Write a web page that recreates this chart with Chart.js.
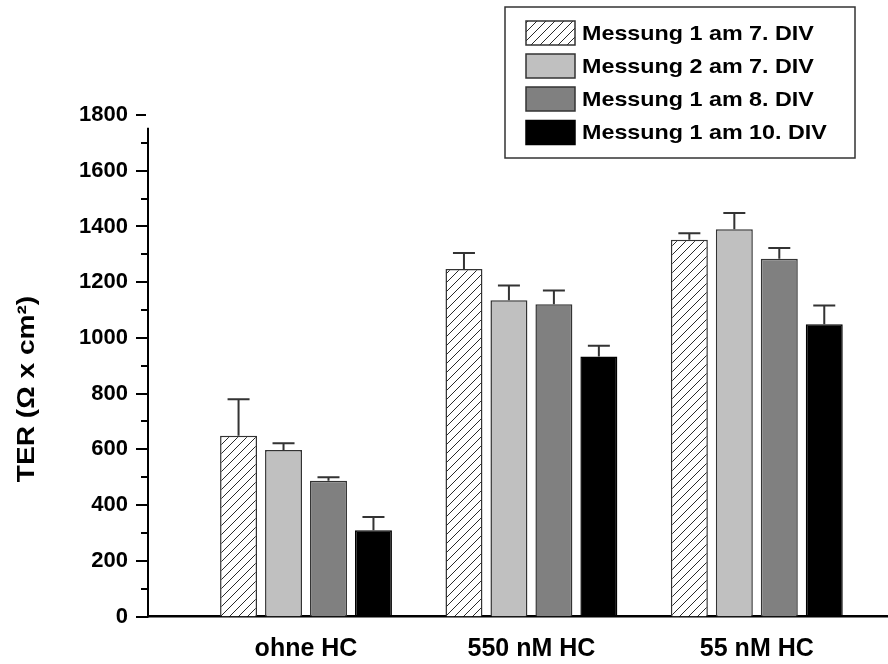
<!DOCTYPE html>
<html>
<head>
<meta charset="utf-8">
<script src="https://cdn.jsdelivr.net/npm/chart.js@4.4.1/dist/chart.umd.min.js"></script>
<style>
  html, body { margin: 0; padding: 0; background: #ffffff; }
  #wrap { width: 888px; height: 664px; position: relative; }
</style>
</head>
<body>
<div id="wrap"><canvas id="c"></canvas></div>
<script>
// ---- Data ----
const categories = ['ohne HC', '550 nM HC', '55 nM HC'];
const categoryPositions = [1, 2, 3];
const seriesLabels = ['Messung 1 am 7. DIV', 'Messung 2 am 7. DIV', 'Messung 1 am 8. DIV', 'Messung 1 am 10. DIV'];
const mess1Div7 = [649, 1247, 1352];
const mess2Div7 = [598, 1135, 1390];
const mess1Div8 = [487, 1121, 1284];
const mess1Div10 = [310, 933, 1049];
const err1Div7 = [131, 58, 24];
const err2Div7 = [24, 53, 58];
const err1Div8 = [13, 49, 39];
const err1Div10 = [47, 39, 67];
const yTickValues = [0, 200, 400, 600, 800, 1000, 1200, 1400, 1600, 1800];

const seriesValues = [mess1Div7, mess2Div7, mess1Div8, mess1Div10];
const seriesErrors = [err1Div7, err2Div7, err1Div8, err1Div10];

// ---- Hatch pattern ----
function makeHatch() {
  const s = 9;
  const pc = document.createElement('canvas');
  pc.width = s; pc.height = s;
  const g = pc.getContext('2d');
  g.fillStyle = '#ffffff';
  g.fillRect(0, 0, s, s);
  g.strokeStyle = '#2a2a2a';
  g.lineWidth = 1;
  g.beginPath();
  g.moveTo(0, s); g.lineTo(s, 0);
  g.moveTo(-1, 1); g.lineTo(1, -1);
  g.moveTo(s - 1, s + 1); g.lineTo(s + 1, s - 1);
  g.stroke();
  return document.getElementById('c').getContext('2d').createPattern(pc, 'repeat');
}
const hatch = makeHatch();
const fills = [hatch, '#c0c0c0', '#808080', '#000000'];
const borders = ['#333333', '#333333', '#333333', '#000000'];

const FONT = '"Liberation Sans", Arial, sans-serif';

// ---- Plugins ----
const axisPlugin = {
  id: 'axisPlugin',
  afterDraw(chart) {
    const ctx = chart.ctx;
    const ys = chart.scales.y;
    const x0 = chart.chartArea.left;
    ctx.save();
    ctx.strokeStyle = '#000';
    ctx.lineWidth = 2;
    ctx.beginPath();
    ctx.moveTo(x0, ys.getPixelForValue(0) + 1);
    ctx.lineTo(x0, ys.getPixelForValue(1754));
    ctx.stroke();
    for (let v = 0; v <= 1800; v += 100) {
      const y = Math.round(ys.getPixelForValue(v));
      const major = v % 200 === 0;
      ctx.beginPath();
      if (v === 1800) {
        ctx.moveTo(x0 - 12, y); ctx.lineTo(x0 - 2, y);
      } else {
        ctx.moveTo(x0 - (major ? 12 : 7), y); ctx.lineTo(x0, y);
      }
      ctx.stroke();
    }
    ctx.translate(27, 389);
    ctx.rotate(-Math.PI / 2);
    ctx.scale(1.17, 1);
    ctx.fillStyle = '#000';
    ctx.font = 'bold 24px ' + FONT;
    ctx.textAlign = 'center';
    ctx.textBaseline = 'middle';
    ctx.fillText('TER (\u03A9 x cm\u00B2)', 0, 0);
    ctx.restore();
  }
};

const errorBarPlugin = {
  id: 'errorBarPlugin',
  afterDatasetsDraw(chart) {
    const ctx = chart.ctx;
    const ys = chart.scales.y;
    ctx.save();
    ctx.strokeStyle = '#333';
    ctx.lineWidth = 2;
    chart.data.datasets.forEach((ds, i) => {
      const meta = chart.getDatasetMeta(i);
      meta.data.forEach((bar, j) => {
        const top = ys.getPixelForValue(seriesValues[i][j] + seriesErrors[i][j]);
        ctx.beginPath();
        ctx.moveTo(bar.x, bar.y);
        ctx.lineTo(bar.x, top);
        ctx.moveTo(bar.x - 11, top);
        ctx.lineTo(bar.x + 11, top);
        ctx.stroke();
      });
    });
    ctx.restore();
  }
};

const legendPlugin = {
  id: 'legendPlugin',
  afterDraw(chart) {
    const ctx = chart.ctx;
    ctx.save();
    ctx.fillStyle = '#fff';
    ctx.fillRect(505, 7, 350, 151);
    ctx.strokeStyle = '#333';
    ctx.lineWidth = 1.5;
    ctx.strokeRect(505, 7, 350, 151);
    const rows = [33, 66, 99, 132.5];
    chart.data.datasets.forEach((ds, i) => {
      const cy = rows[i];
      ctx.fillStyle = ds.backgroundColor;
      ctx.fillRect(526, cy - 12, 49, 24);
      ctx.strokeStyle = ds.borderColor;
      ctx.lineWidth = 1.5;
      ctx.strokeRect(526, cy - 12, 49, 24);
      ctx.save();
      ctx.translate(582, cy + 1);
      ctx.scale(1.11, 1);
      ctx.fillStyle = '#000';
      ctx.font = 'bold 21px ' + FONT;
      ctx.textAlign = 'left';
      ctx.textBaseline = 'middle';
      ctx.fillText(ds.label, 0, 0);
      ctx.restore();
    });
    ctx.restore();
  }
};

// ---- Chart ----
const datasets = seriesLabels.map((label, i) => ({
  label: label,
  data: seriesValues[i].map((v, j) => ({ x: categoryPositions[j], y: v })),
  backgroundColor: fills[i],
  borderColor: borders[i],
  borderWidth: 1.5,
  borderSkipped: 'start',
  categoryPercentage: 0.798,
  barPercentage: 0.822
}));

new Chart(document.getElementById('c'), {
  type: 'bar',
  data: { datasets: datasets },
  options: {
    responsive: true,
    maintainAspectRatio: false,
    devicePixelRatio: 1,
    animation: false,
    layout: { padding: { top: 115, left: 0, right: 0, bottom: 0 } },
    plugins: {
      legend: { display: false },
      tooltip: { enabled: false }
    },
    scales: {
      x: {
        type: 'linear',
        min: 0.299,
        max: 3.582,
        offset: false,
        grid: { display: false, drawTicks: false, offset: false },
        border: { display: true, color: '#000', width: 2.5 },
        afterBuildTicks: (scale) => { scale.ticks = categoryPositions.map(v => ({ value: v })); },
        afterFit: (scale) => { scale.height = 47.5; },
        ticks: {
          padding: 18,
          autoSkip: false,
          maxRotation: 0,
          color: '#000',
          font: { family: FONT, size: 25, weight: 'bold' },
          callback: (v) => categories[Math.round(v) - 1]
        }
      },
      y: {
        min: 0,
        max: 1800,
        grid: { display: false, drawTicks: false },
        border: { display: false },
        afterBuildTicks: (scale) => { scale.ticks = yTickValues.map(v => ({ value: v })); },
        afterFit: (scale) => { scale.width = 148; },
        ticks: {
          padding: 20,
          color: '#000',
          font: { family: FONT, size: 22, weight: 'bold' },
          callback: (v) => String(v)
        }
      }
    }
  },
  plugins: [errorBarPlugin, axisPlugin, legendPlugin]
});
</script>
</body>
</html>
